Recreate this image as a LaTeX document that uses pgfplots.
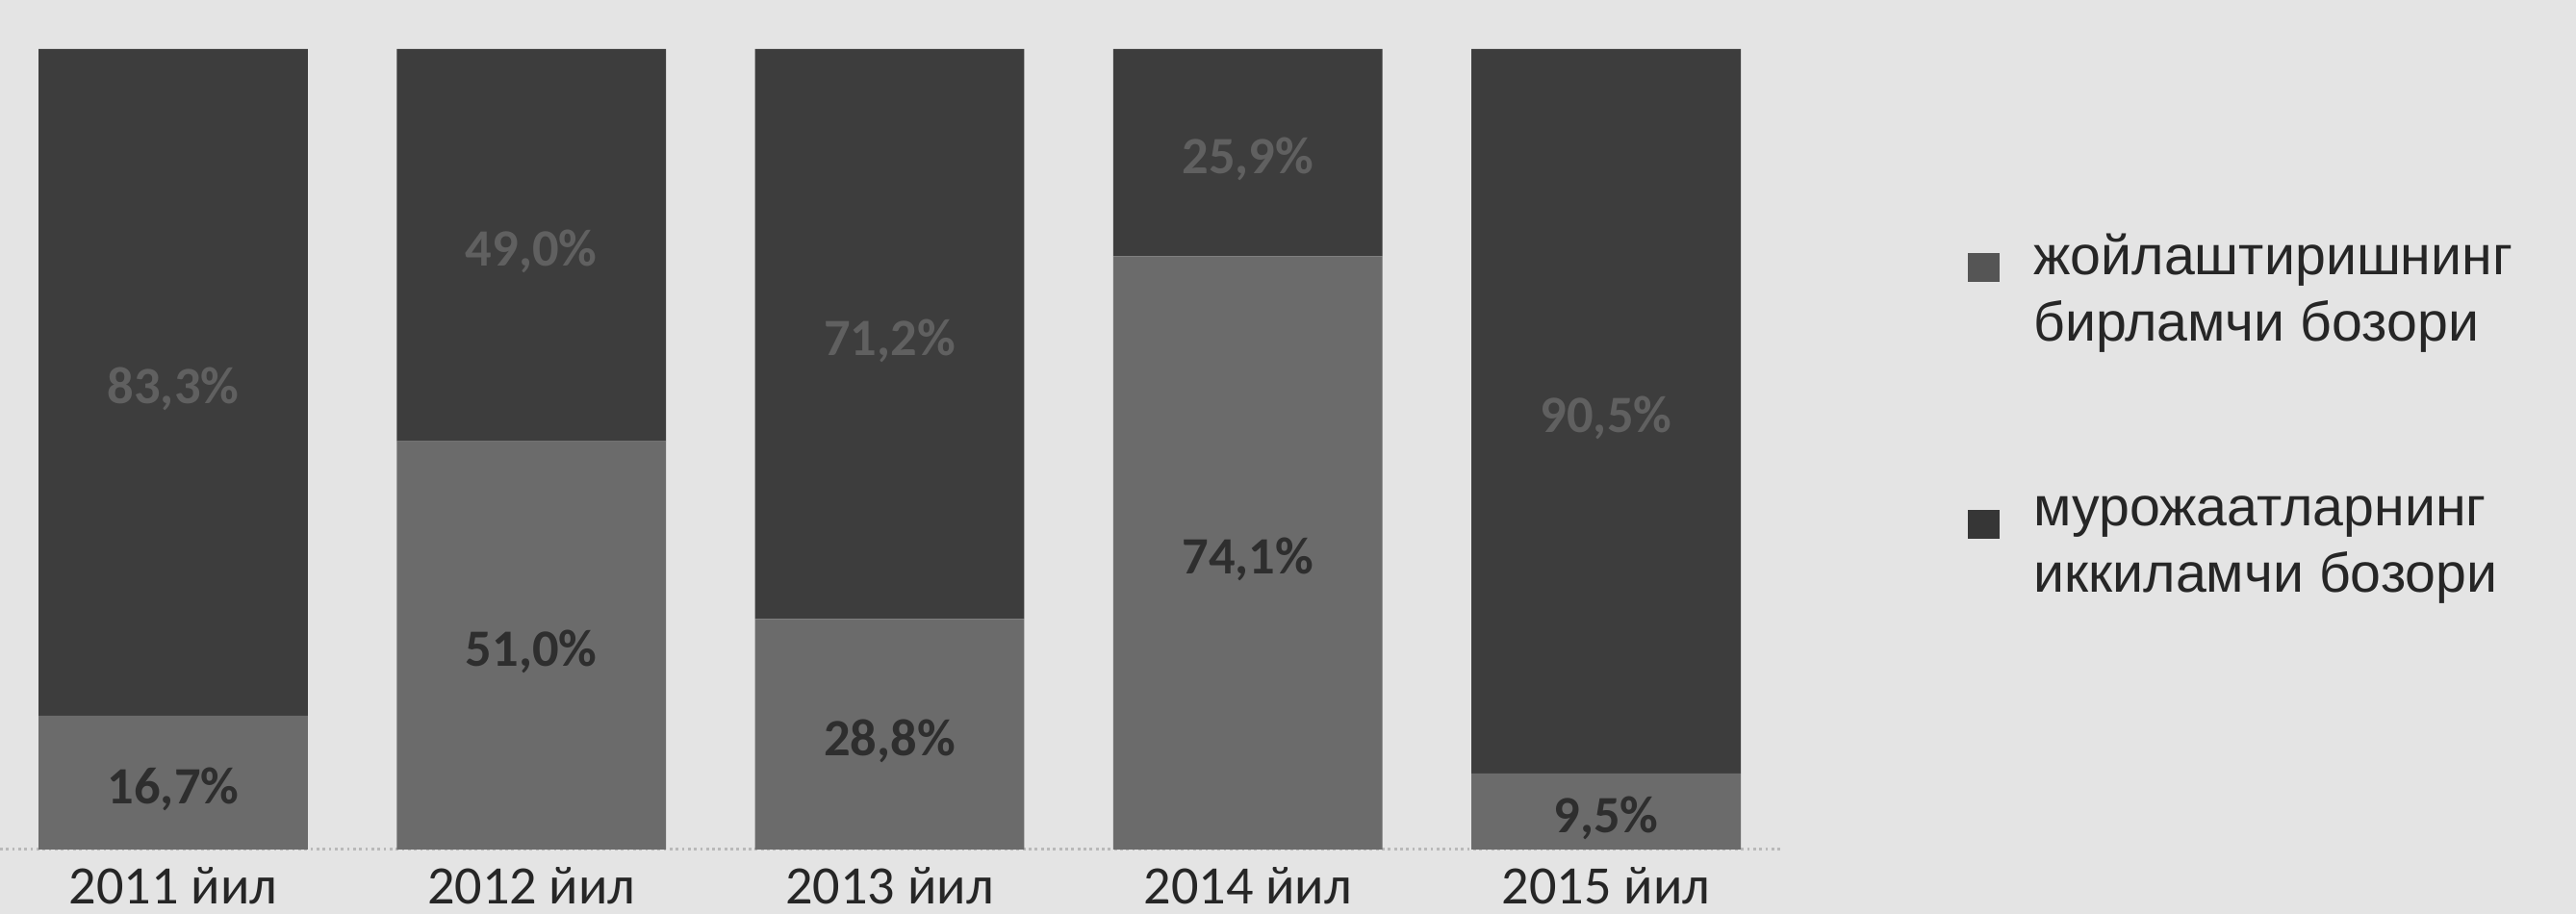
\documentclass[border=0pt]{standalone}
\usepackage{fontspec}
\setmainfont{Carlito}
\newfontfamily\legfont{Liberation Sans}
\usepackage{pgfplots}
\pgfplotsset{compat=1.18}
\usepackage{pgfplotstable}

\definecolor{paper}{HTML}{E4E4E4}
\definecolor{segLow}{HTML}{6B6B6B}
\definecolor{segHigh}{HTML}{3D3D3D}
\definecolor{legA}{HTML}{555555}
\definecolor{legB}{HTML}{363636}
\definecolor{labLow}{HTML}{2E2E2E}
\definecolor{labHigh}{HTML}{606060}

% bottom segment (lighter) and top segment (darker), per cent
\pgfplotstableread{
x y
0 16.7
1 51.0
2 28.8
3 74.1
4 9.5
}\lowpart
\pgfplotstableread{
x y
0 83.3
1 49.0
2 71.2
3 25.9
4 90.5
}\highpart

\begin{document}
\begin{tikzpicture}
\useasboundingbox (0,-19.06pt) rectangle (761.7pt,251.2pt);
\fill[paper] (0,-19.06pt) rectangle (761.7pt,251.2pt);
\begin{axis}[
    scale only axis,
    width=527pt, height=236.7pt,
    ybar stacked,
    bar width=0.752,
    xmin=-0.4836, xmax=4.492,
    ymin=0, ymax=100,
    axis x line=bottom,
    axis y line=none,
    axis line style={-, gray!55, densely dotted, line width=0.8pt},
    xtick=data,
    xticklabels={2011 йил, 2012 йил, 2013 йил, 2014 йил, 2015 йил},
    major tick length=0pt,
    xticklabel style={font=\fontsize{16}{18}\selectfont, text=black!85,
        anchor=base, inner sep=0pt, yshift=-16pt},
    nodes near coords={\pgfmathprintnumber[fixed,fixed zerofill,precision=1,use comma,assume math mode=true]{\pgfplotspointmeta}\%},
    point meta=explicit,
    every node near coord/.append style={font=\bfseries\fontsize{15.5}{17}\selectfont,
        anchor=center, inner sep=0pt, yshift=-2pt},
    legend style={at={(rel axis cs:1.1037,0.778)}, anchor=north west,
        draw=none, fill=none, inner sep=0pt,
        font=\legfont\fontsize{16.3}{19.5}\selectfont, text=black!85,
        cells={anchor=west, align=left}, row sep=40.5pt,
        /tikz/every odd column/.append style={column sep=8pt}},
    legend image code/.code={\fill[#1, draw=none] (0pt,2.5pt) rectangle (9.5pt,11pt);},
]
\addplot[fill=segLow, draw=none, every node near coord/.append style={text=labLow}, forget plot]
    table[x=x, y=y, meta=y] {\lowpart};
\addplot[fill=segHigh, draw=none, every node near coord/.append style={text=labHigh}, forget plot]
    table[x=x, y=y, meta=y] {\highpart};
\addlegendimage{fill=legA}
\addlegendentry{жойлаштиришнинг\\бирламчи бозори}
\addlegendimage{fill=legB}
\addlegendentry{мурожаатларнинг\\иккиламчи бозори}
\end{axis}
\end{tikzpicture}
\end{document}
